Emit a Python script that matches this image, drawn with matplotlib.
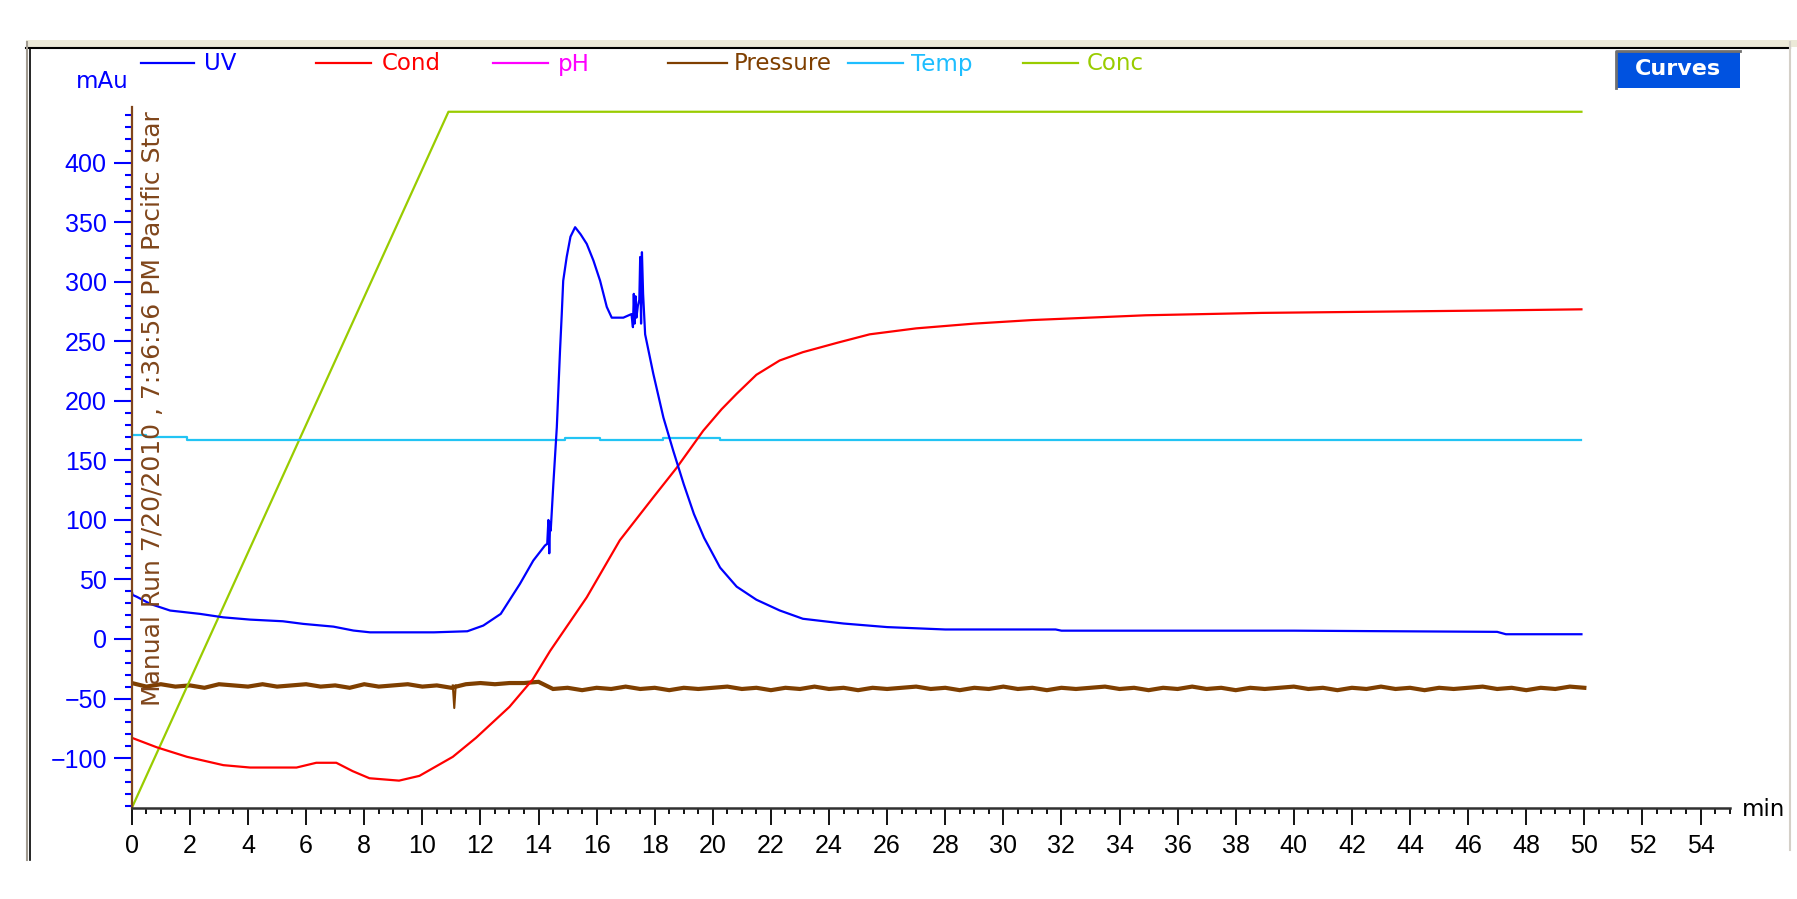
import numpy as np
import matplotlib.pyplot as plt
from matplotlib.ticker import MultipleLocator
from matplotlib.patches import Rectangle
from matplotlib.lines import Line2D

# UV trace (mAu)
uv_t = [0, 0.03, 0.17, 0.63, 1.32, 2.35, 3.15, 4.07, 5.2, 5.9, 6.94, 7.63, 8.2, 10.4,
        11.55, 12.1, 12.7, 13.36, 13.82, 14.22, 14.3, 14.34, 14.37, 14.4, 14.42, 14.51,
        14.63, 14.74, 14.8, 14.85, 14.97, 15.1, 15.26, 15.45, 15.66, 15.89, 16.12, 16.35,
        16.52, 16.92, 17.2, 17.25, 17.28, 17.31, 17.34, 17.37, 17.42, 17.47, 17.5, 17.53,
        17.56, 17.6, 17.67, 17.95, 18.3, 18.64, 19.0, 19.35, 19.7, 20.25, 20.82, 21.5, 22.3,
        23.1, 24.5, 26, 28, 31.8, 32.0, 40, 47.0, 47.3, 49.9]
uv_v = [40, 37, 35.5, 29.5, 23.9, 21.1, 18.2, 16.3, 14.9, 12.7, 10.4, 7.1, 5.6, 5.6,
        6.5, 11.3, 21.1, 46.3, 65.9, 78.5, 80, 100, 72, 98, 91, 130,
        178, 242, 273, 301, 321, 338, 346, 340, 332, 318, 301, 279,
        270, 270, 273, 262, 290, 265, 288, 270, 280, 285, 321, 265,
        325, 290, 256, 223, 186, 158, 130, 105, 85, 60, 44, 33, 24,
        17, 13, 10, 8, 8, 7, 7, 6, 4, 4]

# conductivity
cond_t = [0, 0.86, 1.9, 3.15, 4.07, 5.67, 6.35, 7.04, 7.6, 8.18, 9.2, 9.9, 11.05, 11.85,
          13.0, 13.8, 14.4, 15.66, 16.8, 17.95, 18.76, 19.67, 20.3, 20.82, 21.5, 22.3,
          23.1, 24.3, 25.4, 27, 29, 31, 34.9, 38.9, 42.8, 46.7, 49.9]
cond_v = [-83, -91, -99, -106, -108, -108, -104, -104, -111, -117, -119, -115, -99, -83,
          -57, -34, -10, 35, 83, 119, 144, 175, 193, 206, 222, 234,
          241, 249, 256, 261, 265, 268, 272, 274, 275, 276, 277]

# temperature (step trace)
temp_t = [0, 0.5, 1.9, 14.9, 16.1, 18.3, 20.25, 49.9]
temp_v = [171, 169.5, 167.3, 169.2, 167.3, 169.2, 167.3, 167.3]

# concentration gradient
conc_t = [0, 10.9, 49.9]
conc_v = [-142, 443, 443]

# pressure, sampled every 0.5 min
pres_a = [-37, -40, -38, -40, -39, -41, -38, -39, -40, -38, -40, -39, -38, -40, -39,
          -41, -38, -40, -39, -38, -40, -39, -41, -38, -37, -38, -37, -37, -36]
pres_b = [-42, -41, -43, -41, -42, -40, -42, -41, -43, -41, -42, -41, -40, -42, -41,
          -43, -41, -42, -40, -42, -41, -43, -41, -42, -41, -40, -42, -41, -43, -41,
          -42, -40, -42, -41, -43, -41, -42, -41, -40, -42, -41, -43, -41, -42, -40,
          -42, -41, -43, -41, -42, -41, -40, -42, -41, -43, -41, -42, -40, -42, -41,
          -43, -41, -42, -41, -40, -42, -41, -43, -41, -42, -40, -41]
pres_dip_t = [11.05, 11.1, 11.15]
pres_dip_v = [-39, -58, -39]

legend_names = ["UV", "Cond", "pH", "Pressure", "Temp", "Conc"]
legend_colors = ["#0000ff", "#ff0000", "#ff00ff", "#7f3f00", "#1ebeff", "#99cc00"]

W, H = 1797, 899
fig = plt.figure(figsize=(W / 100, H / 100), dpi=100)
fig.patch.set_facecolor("white")

def fx(px):
    return px / W

def fy(py):
    return 1 - py / H

ax = fig.add_axes([fx(131.8), fy(808), fx(1729.6) - fx(131.8), fy(107) - fy(808)])

pres_t = list(np.linspace(0, 14, len(pres_a))) + list(np.linspace(14.5, 50, len(pres_b)))
ax.plot(pres_t, pres_a + pres_b, color="#7f3f00", lw=3.0, solid_joinstyle="miter")
ax.plot(pres_dip_t, pres_dip_v, color="#7f3f00", lw=1.5)
ax.plot(conc_t, conc_v, color="#99cc00", lw=1.6)
ax.plot(temp_t, temp_v, color="#22c4f4", lw=1.6, drawstyle="steps-post")
ax.plot(cond_t, cond_v, color="#ff0000", lw=1.6)
ax.plot(uv_t, uv_v, color="#0000ff", lw=1.6)

ax.set_xlim(0, 55)
ax.set_ylim(-142, 447)
ax.spines["top"].set_visible(False)
ax.spines["right"].set_visible(False)
ax.spines["left"].set_color("#80461b")
ax.spines["left"].set_linewidth(1.6)
ax.spines["bottom"].set_color("#303030")
ax.spines["bottom"].set_linewidth(1.8)

ax.xaxis.set_major_locator(MultipleLocator(2))
ax.xaxis.set_minor_locator(MultipleLocator(0.5))
ax.yaxis.set_minor_locator(MultipleLocator(10))
ax.set_yticks(np.arange(-100, 401, 50))
ax.tick_params(axis="x", which="major", direction="out", length=12, width=1.3,
               color="black", labelcolor="black", pad=7, labelsize=18,
               labelfontfamily="Liberation Sans")
ax.tick_params(axis="x", which="minor", direction="out", length=4.5, width=1.3, color="black")
ax.tick_params(axis="y", which="major", direction="out", length=13, width=1.5,
               color="#0000ff", labelcolor="#0000ff", pad=5, labelsize=18,
               labelfontfamily="Liberation Sans")
ax.tick_params(axis="y", which="minor", direction="out", length=5, width=1.5, color="#0000ff")

ax.text(0.3, -56, "Manual Run 7/20/2010 , 7:36:56 PM Pacific Star", rotation=90,
        ha="left", va="bottom", color="#80461b", fontsize=18)

# window frame
fig.add_artist(Rectangle((fx(26), fy(47)), fx(1797) - fx(26), fy(40) - fy(47),
                         transform=fig.transFigure, facecolor="#ece9d8", edgecolor="none"))
fig.add_artist(Line2D([fx(26), fx(1790)], [fy(48), fy(48)], transform=fig.transFigure,
                      color="black", lw=1.5))
fig.add_artist(Line2D([fx(27), fx(27)], [fy(42), fy(860)], transform=fig.transFigure,
                      color="#a09a90", lw=1.5))
fig.add_artist(Line2D([fx(29.5), fx(29.5)], [fy(48), fy(860)], transform=fig.transFigure,
                      color="black", lw=1.2))
fig.add_artist(Line2D([fx(1790), fx(1790)], [fy(42), fy(850)], transform=fig.transFigure,
                      color="#d4d0c8", lw=1.5))

# legend row
line_x = [(141, 194), (316, 371), (493, 548), (668, 727), (848, 903), (1023, 1078)]
text_x = [204, 382, 558, 734, 911, 1087]
for name, col, (a, b), tx in zip(legend_names, legend_colors, line_x, text_x):
    fig.add_artist(Line2D([fx(a), fx(b)], [fy(63), fy(63)], transform=fig.transFigure,
                          color=col, lw=1.6))
    fig.text(fx(tx), fy(64), name, color=col, fontsize=16.5, ha="left", va="center")

fig.text(fx(129), fy(81), "mAu", color="#0000ff", fontsize=16.5, ha="right", va="center")
fig.text(fx(1742), fy(810), "min", color="black", fontsize=16.5, ha="left", va="center")

# Curves button
fig.add_artist(Rectangle((fx(1616), fy(88)), fx(1740) - fx(1616), fy(51) - fy(88),
                         transform=fig.transFigure, facecolor="#0052e0", edgecolor="none"))
fig.add_artist(Line2D([fx(1616), fx(1616), fx(1740)], [fy(88), fy(51), fy(51)],
                      transform=fig.transFigure, color="#707070", lw=2))
fig.text(fx(1678), fy(69), "Curves", color="white", fontsize=16, fontweight="bold",
         ha="center", va="center")

fig.savefig("out.png", dpi=100)
